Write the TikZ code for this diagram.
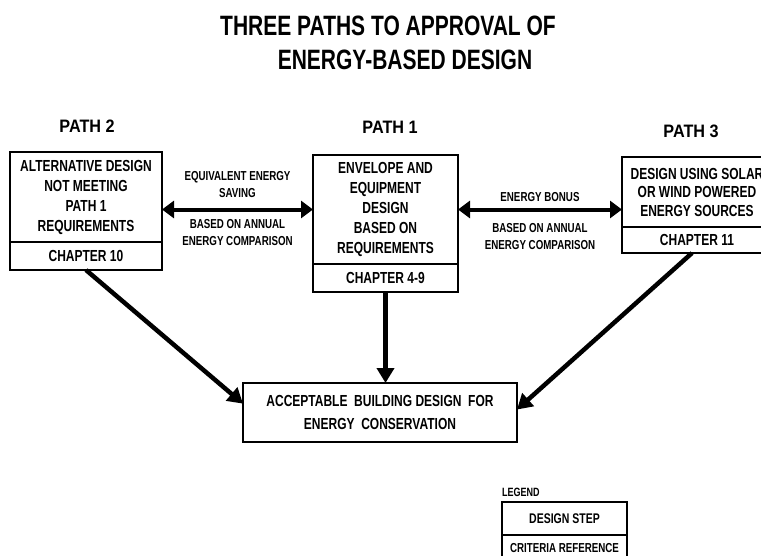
\documentclass[tikz,border=0pt]{standalone}
\usepackage{fontspec}
\setmainfont{Liberation Sans}[FakeStretch=0.75]
\newfontfamily\pathfont{Liberation Sans}[FakeStretch=0.9]
\usetikzlibrary{arrows.meta, positioning, calc}

\tikzset{
    stepbox/.style={draw, line width=2.5pt, align=center, inner sep=0pt, outer sep=0pt,
        font=\bfseries\fontsize{16}{20}\selectfont},
    refbox/.style={stepbox, minimum height=28pt},
    pathlabel/.style={inner sep=0pt, font=\pathfont\bfseries\fontsize{18}{20}\selectfont},
    note/.style={align=center, inner sep=0pt, font=\bfseries\fontsize{13}{16.5}\selectfont},
    flow/.style={line width=4.5pt, -{Triangle[length=15pt, width=17pt]}},
    trade/.style={line width=4pt, {Triangle[length=12pt, width=17pt]}-{Triangle[length=12pt, width=17pt]}}
}

\begin{document}
\begin{tikzpicture}[x=1pt, y=-1pt]
    \useasboundingbox (0,0) rectangle (761,555);
    \clip (0,0) rectangle (761,555);

    % Title
    \node[inner sep=0pt, font=\bfseries\fontsize{28}{32}\selectfont] (title1) at (388,26) {THREE PATHS TO APPROVAL OF};
    \node[inner sep=0pt, font=\bfseries\fontsize{28}{32}\selectfont] (title2) at (405,60) {ENERGY-BASED DESIGN};

    % Path headings
    \node[pathlabel] (h2) at (87,126) {PATH 2};
    \node[pathlabel] (h1) at (390,127) {PATH 1};
    \node[pathlabel] (h3) at (691,131) {PATH 3};

    % Design steps
    \node[stepbox, minimum width=152pt, minimum height=90pt] (p2) at (86,197)
        {ALTERNATIVE DESIGN\\NOT MEETING\\PATH 1\\REQUIREMENTS};
    \node[refbox, minimum width=152pt, below=0pt of p2] (p2ref) {CHAPTER 10};

    \node[stepbox, minimum width=145pt, minimum height=109pt] (p1) at (385.5,209.5)
        {ENVELOPE AND\\EQUIPMENT\\DESIGN\\BASED ON\\REQUIREMENTS};
    \node[refbox, minimum width=145pt, below=0pt of p1] (p1ref) {CHAPTER 4-9};

    \node[stepbox, minimum width=150pt, minimum height=70pt, font=\bfseries\fontsize{16}{18.5}\selectfont] (p3) at (697,192)
        {DESIGN USING SOLAR\\OR WIND POWERED\\ENERGY SOURCES};
    \node[refbox, minimum width=150pt, minimum height=26pt, below=0pt of p3] (p3ref) {CHAPTER 11};

    % Result
    \node[stepbox, minimum width=274pt, minimum height=59pt, font=\bfseries\fontsize{16}{23}\selectfont] (final) at (380,412.5)
        {ACCEPTABLE \ BUILDING DESIGN \ FOR\\ENERGY \ CONSERVATION};

    % Trade-offs between paths
    \draw[trade] (p2.east |- p1.west) -- (p1.west)
        node[note, midway, above=10pt] {EQUIVALENT ENERGY\\SAVING}
        node[note, midway, below=8pt] {BASED ON ANNUAL\\ENERGY COMPARISON};
    \draw[trade] (p1.east) -- (p3.west |- p1.east)
        node[note, midway, above=6pt] {ENERGY BONUS}
        node[note, midway, below=12pt] {BASED ON ANNUAL\\ENERGY COMPARISON};

    % Paths to approval
    \draw[flow] (p2ref.south) -- ($(final.north west)!0.35!(final.south west)$);
    \draw[flow] (p1ref.south) -- (p1ref.south |- final.north);
    \draw[flow] ($(p3ref.south)+(-5,0)$) -- ($(final.north east)!0.45!(final.south east)$);

    % Legend
    \node[stepbox, minimum width=125pt, minimum height=33pt, font=\bfseries\fontsize{14}{16}\selectfont] (legstep) at (564.5,518.5) {DESIGN STEP};
    \node[refbox, minimum width=125pt, minimum height=26pt, font=\bfseries\fontsize{13}{15}\selectfont, below=0pt of legstep] (legref) {CRITERIA REFERENCE};
    \node[inner sep=0pt, font=\bfseries\fontsize{12}{14}\selectfont, above right=5pt and 0pt of legstep.north west] (legend) {LEGEND};
\end{tikzpicture}
\end{document}
